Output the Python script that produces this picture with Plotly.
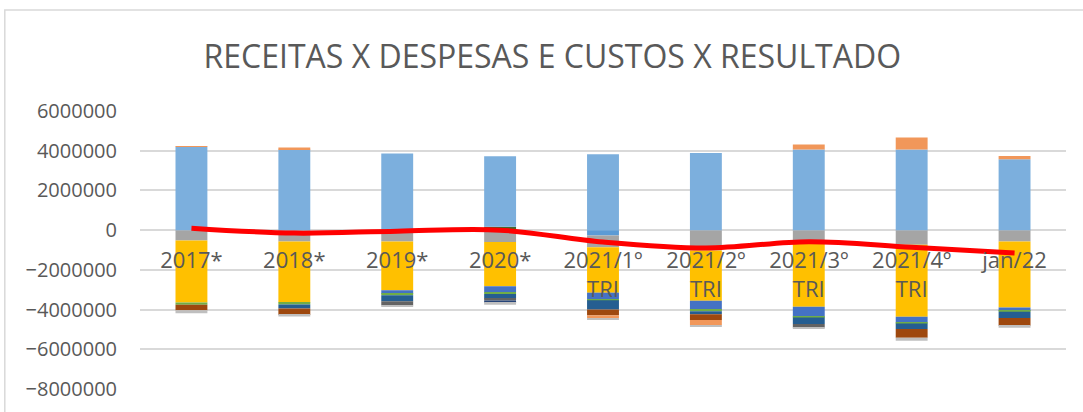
import plotly.graph_objects as go

categories = ["2017*", "2018*", "2019*", "2020*", "2021/1º<br>TRI", "2021/2º<br>TRI",
              "2021/3º<br>TRI", "2021/4º<br>TRI", "jan/22"]

# series in stacking order (first one sits next to zero)
s01 = [0, 0, 0, 0, -0.27e6, 0, 0, 0, 0]
s03 = [-0.52e6, -0.57e6, -0.57e6, -0.60e6, -0.59e6, -1.02e6, -0.56e6, -0.74e6, -0.57e6]
s04 = [-3.12e6, -3.08e6, -2.46e6, -2.22e6, -2.29e6, -2.54e6, -3.30e6, -3.62e6, -3.32e6]
s05 = [0, 0, -0.17e6, -0.32e6, -0.32e6, -0.45e6, -0.50e6, -0.30e6, -0.18e6]
s06 = [-0.12e6, -0.10e6, -0.085e6, -0.07e6, -0.06e6, -0.07e6, -0.04e6, -0.04e6, -0.04e6]
s07 = [0, -0.20e6, -0.30e6, -0.23e6, -0.47e6, -0.15e6, -0.33e6, -0.28e6, -0.32e6]
s08 = [-0.27e6, -0.32e6, 0, 0, -0.29e6, -0.29e6, 0, -0.44e6, -0.39e6]
s09 = [0, 0, -0.20e6, -0.10e6, 0, 0, -0.17e6, 0, 0]
s11 = [0, 0, 0, -0.12e6, 0, 0, 0, 0, 0]
s12 = [0, 0, 0, 0.17e6, 0, 0, 0, 0, 0]
s13 = [4.20e6, 4.06e6, 3.86e6, 3.55e6, 3.82e6, 3.89e6, 4.06e6, 4.06e6, 3.57e6]
s14 = [0.02e6, 0.10e6, 0, 0, -0.14e6, -0.27e6, 0.25e6, 0.60e6, 0.17e6]
s15 = [-0.15e6, -0.08e6, -0.08e6, -0.10e6, -0.05e6, -0.08e6, -0.07e6, -0.15e6, -0.10e6]

resultado = [0.10e6, -0.15e6, -0.05e6, 0.0, -0.60e6, -0.90e6, -0.58e6, -0.86e6, -1.15e6]

series = [
    ("Série 1", s01, "#5B9BD5"),
    ("Série 3", s03, "#A5A5A5"),
    ("Série 4", s04, "#FFC000"),
    ("Série 5", s05, "#4472C4"),
    ("Série 6", s06, "#70AD47"),
    ("Série 7", s07, "#255E91"),
    ("Série 8", s08, "#9E480E"),
    ("Série 9", s09, "#636363"),
    ("Série 11", s11, "#264478"),
    ("Série 12", s12, "#43682B"),
    ("Série 13", s13, "#7CAFDD"),
    ("Série 14", s14, "#F1975A"),
    ("Série 15", s15, "#BFBFBF"),
]

fig = go.Figure()
for name, vals, color in series:
    fig.add_trace(go.Bar(x=categories, y=vals, name=name, marker_color=color,
                         marker_line_width=0))

fig.add_trace(go.Scatter(x=categories, y=resultado, name="Resultado", mode="lines",
                         line=dict(color="#FF0000", width=5, shape="spline")))

fig.update_layout(
    width=1083, height=412,
    barmode="relative", bargap=0.69,
    showlegend=False,
    title=dict(text="RECEITAS X DESPESAS E CUSTOS X RESULTADO", x=0.51, xref="container",
               y=0.862, yref="container", yanchor="middle", xanchor="center",
               font=dict(family="Open Sans", size=32, color="#595959")),
    margin={"l": 140, "r": 17, "t": 111, "b": 23},
    paper_bgcolor="white", plot_bgcolor="white",
    font=dict(family="Open Sans", color="#595959", size=20),
    shapes=[dict(type="rect", xref="paper", yref="paper", x0=-0.146, x1=1.2, y0=-0.2, y1=1.363,
                 line=dict(color="#D9D9D9", width=1.5), fillcolor="rgba(0,0,0,0)", layer="below")],
)
fig.update_yaxes(range=[-8e6, 6e6], dtick=2e6, tickformat="d", showgrid=True, automargin=False,
                 gridcolor="#D9D9D9", gridwidth=1.5, zeroline=True, zerolinecolor="#D9D9D9",
                 zerolinewidth=1.5, ticklabelstandoff=22, tickfont=dict(size=20, color="#595959"))
fig.update_xaxes(anchor="free", position=8 / 14, showline=False, ticks="", automargin=False,
                 ticklabelstandoff=15, tickfont=dict(size=22, color="#595959"))

# page has a default 8px body margin; drop it so the figure sits at the window corner
fig.write_html("out.html", config={"displayModeBar": False},
               post_script="document.body.style.margin='0';")
